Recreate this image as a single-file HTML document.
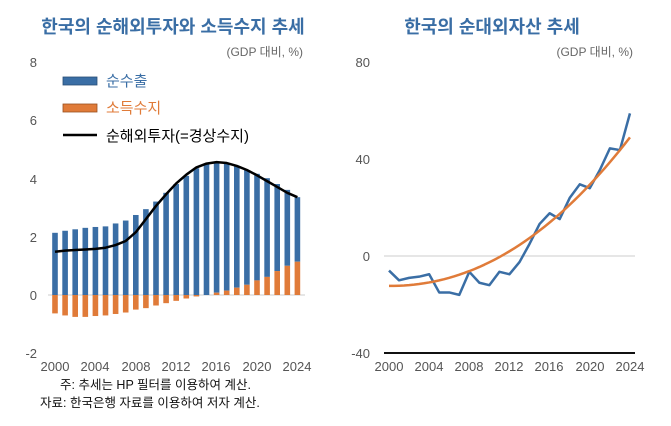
<!DOCTYPE html>
<html><head><meta charset="utf-8"><style>
body{margin:0;background:#fff;width:671px;height:426px;overflow:hidden}
svg{display:block}
text{font-family:"Liberation Sans","Noto Sans CJK KR",sans-serif}
</style></head><body>
<svg id="s" width="671" height="426" xmlns="http://www.w3.org/2000/svg">
<text x="173" y="33" text-anchor="middle" font-size="18" font-weight="bold" fill="#3a6ea5">한국의 순해외투자와 소득수지 추세</text>
<text x="492" y="33" text-anchor="middle" font-size="18" font-weight="bold" fill="#3a6ea5">한국의 순대외자산 추세</text>
<text x="303" y="56" text-anchor="end" font-size="12" fill="#666">(GDP 대비, %)</text>
<text x="633" y="56" text-anchor="end" font-size="12" fill="#666">(GDP 대비, %)</text>
<g font-size="13" fill="#555" text-anchor="end">
<text x="37" y="67">8</text><text x="37" y="125">6</text><text x="37" y="184">4</text>
<text x="37" y="242">2</text><text x="37" y="300">0</text><text x="37" y="358">-2</text>
<text x="370" y="67">80</text><text x="370" y="164">40</text><text x="370" y="261">0</text><text x="370" y="358">-40</text>
</g>
<g font-size="13" fill="#555" text-anchor="middle">
<text x="55" y="371">2000</text><text x="95" y="371">2004</text><text x="136" y="371">2008</text><text x="176" y="371">2012</text><text x="216" y="371">2016</text><text x="257" y="371">2020</text><text x="297" y="371">2024</text>
<text x="389" y="371">2000</text><text x="429" y="371">2004</text><text x="469" y="371">2008</text><text x="509" y="371">2012</text><text x="549" y="371">2016</text><text x="590" y="371">2020</text><text x="630" y="371">2024</text>
</g>
<line x1="384" y1="256" x2="635" y2="256" stroke="#ccc" stroke-width="1"/>
<line x1="384" y1="353" x2="635" y2="353" stroke="#111" stroke-width="2"/>
<line x1="48" y1="295" x2="305" y2="295" stroke="#ccc" stroke-width="1"/>
<g id="bars"></g>
<rect x="63" y="77" width="34" height="8" fill="#3a6ea5" stroke="#2a4e75" stroke-width="0.8"/>
<rect x="63" y="104" width="34" height="8" fill="#e07b39" stroke="#9a5020" stroke-width="0.8"/>
<line x1="63" y1="135" x2="97" y2="135" stroke="#000" stroke-width="2.5"/>
<text x="106" y="86" font-size="15" fill="#3a6ea5">순수출</text>
<text x="106" y="113" font-size="15" fill="#e07b39">소득수지</text>
<text x="106" y="141" font-size="15" fill="#000">순해외투자(=경상수지)</text>
<text x="60" y="389" font-size="12.5" fill="#111">주: 추세는 HP 필터를 이용하여 계산.</text>
<text x="40" y="407" font-size="12.5" fill="#111">자료: 한국은행 자료를 이용하여 저자 계산.</text>
</svg>
<script>
var s=document.getElementById('bars'),ns='http://www.w3.org/2000/svg';
var blue=[2.13,2.2,2.25,2.3,2.33,2.35,2.45,2.55,2.74,2.94,3.2,3.5,3.8,4.08,4.34,4.5,4.55,4.5,4.42,4.28,4.15,4.0,3.8,3.6,3.35];
var org=[-0.63,-0.7,-0.75,-0.75,-0.72,-0.7,-0.65,-0.6,-0.5,-0.45,-0.36,-0.28,-0.2,-0.12,-0.05,0,0.08,0.15,0.25,0.35,0.5,0.62,0.82,1.0,1.14];
var line=[1.48,1.52,1.54,1.56,1.58,1.62,1.71,1.85,2.15,2.6,3.05,3.45,3.82,4.12,4.37,4.5,4.55,4.52,4.42,4.28,4.1,3.9,3.7,3.5,3.35];
function Y(v){return 295-v*29.2}
function X(i){return 55+i*10.1}
function r(x,y,w,h,f){var e=document.createElementNS(ns,'rect');e.setAttribute('x',x);e.setAttribute('y',y);e.setAttribute('width',w);e.setAttribute('height',Math.max(h,0));e.setAttribute('fill',f);s.appendChild(e)}
for(var i=0;i<25;i++){var x=X(i)-2.8,o=org[i];
 var base=o>0?Y(o):295;
 r(x,Y(blue[i]),5.6,base-Y(blue[i]),'#3a6ea5');
 if(o>0)r(x,Y(o),5.6,295-Y(o),'#e07b39');else r(x,295,5.6,Y(o)-295,'#e07b39');}
function pl(pts,c,w){var e=document.createElementNS(ns,'polyline');e.setAttribute('points',pts.join(' '));e.setAttribute('fill','none');e.setAttribute('stroke',c);e.setAttribute('stroke-width',w);e.setAttribute('stroke-linejoin','round');s.appendChild(e)}
var p=[];for(i=0;i<25;i++)p.push(X(i)+','+Y(line[i]));pl(p,'#000',2.5);
var nb=[-6,-10,-9,-8.5,-7.5,-15,-15,-16,-6.5,-11,-12,-6.5,-7.5,-2.5,5,13.2,17.6,15.2,23.9,29.5,27.9,35.4,44.3,43.6,58.7];
function X2(i){return 389+i*10.04}function Y2(v){return 256-v*2.43}
p=[];for(i=0;i<25;i++)p.push(X2(i)+','+Y2(nb[i]));pl(p,'#3a6ea5',2.5);
p=[];for(i=0;i<=48;i++){var t=i/48,v=-12.3+61.1*Math.pow(t,2.1);p.push(X2(t*24)+','+Y2(v))}pl(p,'#e07b39',2.5);
</script>
</body></html>
